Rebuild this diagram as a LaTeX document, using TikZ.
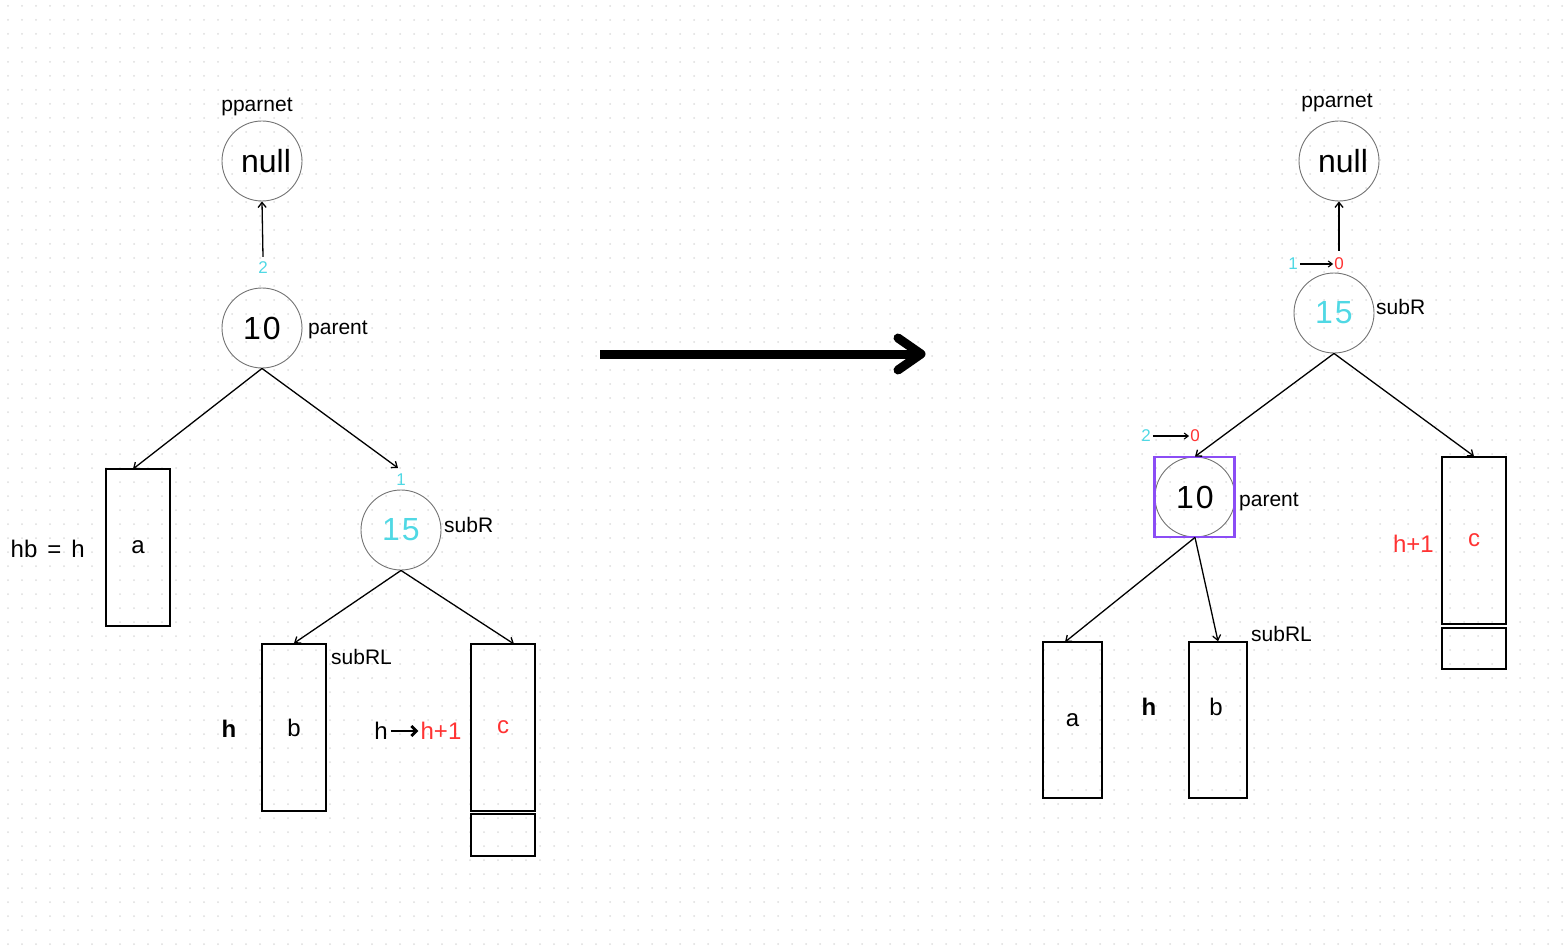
\documentclass[tikz,border=0pt]{standalone}
\usepackage{fontspec}
\setmainfont{Liberation Sans}
\usetikzlibrary{arrows.meta}
\definecolor{cy}{HTML}{50D8E4}
\definecolor{rd}{HTML}{FF3333}
\definecolor{pu}{HTML}{8B4DF5}
\definecolor{dotc}{HTML}{DDDDDD}
\tikzset{
  nd/.style={circle, draw=black!55, line width=0.9pt, minimum size=80pt, inner sep=0pt, font=\fontsize{32}{36}\selectfont},
  box/.style={draw, line width=1.5pt, inner sep=0pt, font=\fontsize{24}{28}\selectfont},
  lbl/.style={font=\fontsize{21}{24}\selectfont, inner sep=0pt},
  big/.style={font=\fontsize{24}{28}\selectfont, inner sep=0pt},
  small/.style={font=\fontsize{17}{20}\selectfont, inner sep=0pt},
  edge/.style={line width=1.3pt, -{Straight Barb[length=5pt,width=8pt]}},
  dotrow/.style={draw=dotc, line width=2pt, line cap=round, dash pattern=on 0pt off 14pt},
}
\begin{document}
\begin{tikzpicture}[x=1pt,y=-1pt]
\useasboundingbox (0,0) rectangle (1567,952);
% dot grid
\foreach \j in {0,...,67}{\draw[dotrow] (8,\j*14+6) -- (1567,\j*14+6);}

% ===== left =====
\node[lbl] (lpp) at (257,107) {pparnet};
\node[nd] (lnull) at (262,161) {\hspace*{8pt}null};
\node[small, text=cy] (l2) at (263,268) {2};
\draw[edge] ([yshift=5pt]l2.north) -- (lnull.south);
\node[nd] (l10) at (262,328) {1\kern2pt0};
\node[lbl, anchor=west] (lpar) at (308,330) {parent};
\node[box, minimum width=64pt, minimum height=157pt] (la) at (138,547.5) {a};
\node[big, anchor=east] (lhb) at (85,549) {hb\hspace{10pt}=\hspace{10pt}h};
\node[small, text=cy] (l1) at (401,480) {1};
\node[nd, text=cy] (l15) at (401,530) {1\kern2pt5};
\node[lbl, anchor=west] (lsubr) at (444,525) {subR};
\coordinate (l15in) at (398,468);
\coordinate (lain) at (133,469);
\draw[edge] (l10.south) -- (lain);
\draw[edge] (l10.south) -- (l15in);
\node[box, minimum width=64pt, minimum height=167pt] (lb) at (294,727.5) {b};
\node[lbl, anchor=west] (lsubrl) at (331,657) {subRL};
\node[big, font=\fontsize{24}{28}\selectfont\bfseries] (lh) at (229,729) {h};
\node[box, minimum width=64pt, minimum height=167pt, text=rd] (lc) at (503,727.5) {c};
\node[box, minimum width=64pt, minimum height=42pt] (lcx) at (503,835) {};
\coordinate (lcin) at (514,644);
\draw[edge] (l15.south) -- (lb.north);
\draw[edge] (l15.south) -- (lcin);
\node[big] (lh2) at (381,731) {h};
\node[big, text=rd] (lh3) at (441,731) {h+1};
\draw[line width=2.8pt, -{Straight Barb[length=5pt,width=10pt]}] ([xshift=3pt]lh2.east) -- ([xshift=-2pt]lh3.west);

% ===== middle arrow =====
\coordinate (ms) at (600,354);
\coordinate (me) at (916,354);
\coordinate (mt) at (921,354);
\coordinate (mu) at (898,338);
\coordinate (md) at (898,370);
\draw[line width=9pt] (ms) -- (me);
\draw[line width=9pt, line cap=round, line join=round] (mu) -- (mt) -- (md);

% ===== right =====
\node[lbl] (rpp) at (1337,103) {pparnet};
\node[nd] (rnull) at (1339,161) {\hspace*{8pt}null};
\coordinate (rup) at (1339,251);
\draw[edge] (rup) -- (rnull.south);
\node[small, text=cy] (r1) at (1293,264) {1};
\node[small, text=rd] (r0) at (1339,264) {0};
\draw[line width=1.1pt, -{Straight Barb[length=4pt,width=6pt]}] ([xshift=2pt]r1.east) -- ([xshift=-1pt]r0.west);
\node[nd, text=cy] (r15) at (1334,313) {1\kern2pt5};
\node[lbl, anchor=west] (rsubr) at (1376,307) {subR};
\node[small, text=cy] (r2) at (1146,436) {2};
\node[small, text=rd] (r0b) at (1195,436) {0};
\draw[line width=1.1pt, -{Straight Barb[length=4pt,width=6pt]}] ([xshift=2pt]r2.east) -- ([xshift=-1pt]r0b.west);
\node[nd] (r10) at (1195,497) {1\kern2pt0};
\node[draw=pu, line width=2.6pt, minimum size=80pt, inner sep=0pt] (rsq) at (1194.5,497) {};
\node[lbl, anchor=west] (rpar) at (1239,502) {parent};
\node[box, minimum width=64pt, minimum height=167pt, text=rd] (rc) at (1474,540.5) {c};
\node[box, minimum width=64pt, minimum height=41pt] (rcx) at (1474,648.5) {};
\node[big, text=rd, anchor=east] (rh1) at (1434,544) {h+1};
\draw[edge] (r15.south) -- (r10.north);
\draw[edge] (r15.south) -- (rc.north);
\node[box, minimum width=59pt, minimum height=156pt] (ra) at (1072.5,720) {a};
\node[box, minimum width=58pt, minimum height=156pt] (rb) at (1218,720) {};
\node[big] (rbt) at (1216,707) {b};
\node[big, font=\fontsize{24}{28}\selectfont\bfseries] (rh) at (1149,707) {h};
\node[lbl, anchor=west] (rsubrl) at (1251,634) {subRL};
\coordinate (rain) at (1065,642);
\draw[edge] (r10.south) -- (rain);
\draw[edge] (r10.south) -- (rb.north);
\end{tikzpicture}
\end{document}
